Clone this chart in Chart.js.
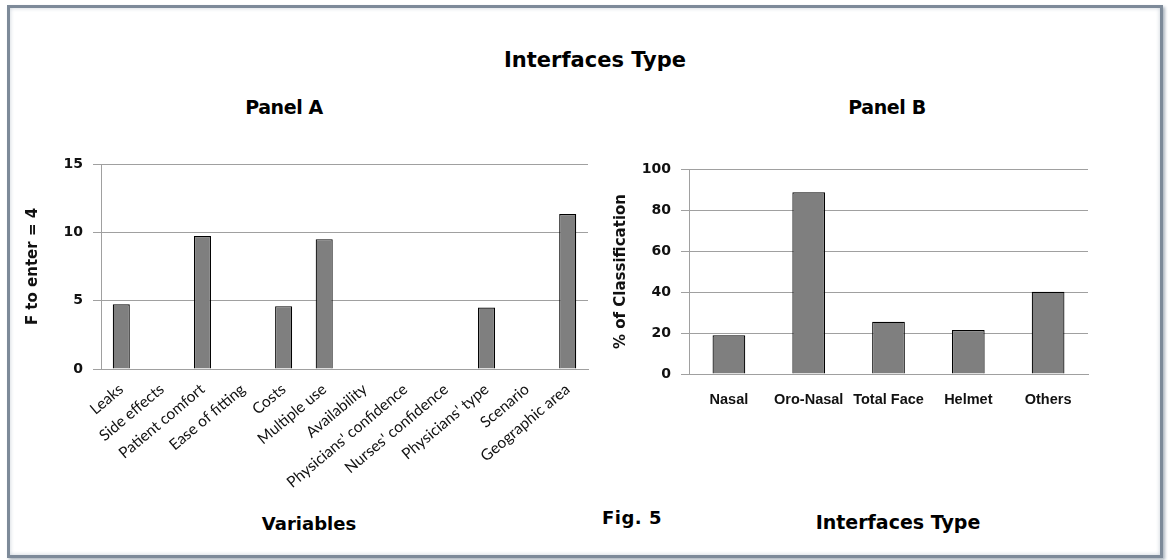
<!DOCTYPE html>
<html>
<head>
<meta charset="utf-8">
<script src="https://cdn.jsdelivr.net/npm/chart.js@4.4.1/dist/chart.umd.min.js"></script>
<style>
  body { margin: 0; width: 1168px; height: 560px; background: #fff; position: relative; overflow: hidden; }
  .frame { position: absolute; left: 7px; top: 5px; width: 1150px; height: 547px; border: 3px solid #7d8a99; box-shadow: inset 0 0 4px #c8d0d8, 2px 2px 3px #aab4be; }
  .txt { position: absolute; font-weight: bold; white-space: nowrap; transform: translate(-50%, -50%); color: #000; font-family: "DejaVu Sans", sans-serif; }
  #boxA { position: absolute; left: 10px; top: 40px; width: 590px; height: 510px; }
  #boxB { position: absolute; left: 600px; top: 40px; width: 555px; height: 510px; }
</style>
</head>
<body>
<div class="frame"></div>
<div class="txt" style="left:595px;top:60px;font-size:21px">Interfaces Type</div>
<div class="txt" style="left:284px;top:107px;font-size:19px;letter-spacing:-0.4px">Panel A</div>
<div class="txt" style="left:887px;top:107px;font-size:19px;letter-spacing:-0.4px">Panel B</div>
<div class="txt" style="left:309px;top:523px;font-size:18px">Variables</div>
<div class="txt" style="left:898px;top:522px;font-size:19px">Interfaces Type</div>
<div class="txt" style="left:632px;top:517px;font-size:18px;letter-spacing:0.5px">Fig. 5</div>
<div id="boxA"><canvas id="chartA"></canvas></div>
<div id="boxB"><canvas id="chartB"></canvas></div>

<script>
// Panel A - variabel dan nilai F
const variabel = ['Leaks', 'Side effects', 'Patient comfort', 'Ease of fitting', 'Costs', 'Multiple use',
  'Availability', "Physicians' confidence", "Nurses' confidence", "Physicians' type", 'Scenario', 'Geographic area'];
const nilaiF = [4.73, null, 9.73, null, 4.6, 9.5, null, null, null, 4.5, null, 11.34];
const ticksA = [0, 5, 10, 15];

// Panel B - tipe interface dan persen klasifikasi
const tipeInterface = ['Nasal', 'Oro-Nasal', 'Total Face', 'Helmet', 'Others'];
const persenKlasifikasi = [18.9, 88.6, 25.5, 21.5, 40.1];
const ticksB = [0, 20, 40, 60, 80, 100];

const abu = '#a0a0a0';
const hitam = '#111';

function opsiChart(cfg) {
  return {
    responsive: true,
    maintainAspectRatio: false,
    animation: false,
    layout: { padding: { top: cfg.top, right: cfg.right, left: 0, bottom: 0 } },
    plugins: { legend: { display: false }, tooltip: { enabled: false } },
    scales: {
      x: {
        grid: { display: false },
        border: { display: true, color: abu, width: 1 },
        ticks: {
          color: hitam,
          autoSkip: false,
          minRotation: cfg.rot,
          maxRotation: cfg.rot,
          padding: cfg.xPad,
          font: cfg.xFont
        },
        afterFit: s => { s.height = cfg.xHeight; }
      },
      y: {
        min: cfg.yTicks[0],
        max: cfg.yTicks[cfg.yTicks.length - 1],
        afterBuildTicks: s => { s.ticks = cfg.yTicks.map(v => ({ value: v })); },
        grid: { color: abu, lineWidth: 1, tickLength: 8, drawTicks: true },
        border: { display: true, color: abu, width: 1 },
        ticks: {
          color: hitam,
          padding: 10,
          font: { family: 'DejaVu Sans', size: 14, weight: 'bold' }
        },
        title: {
          display: true,
          text: cfg.yTitle,
          color: hitam,
          padding: { top: cfg.yTitlePad, bottom: 0 },
          font: { family: 'DejaVu Sans', size: 15, weight: 'bold' }
        },
        afterFit: s => { s.width = cfg.yWidth; }
      }
    }
  };
}

new Chart(document.getElementById('chartA'), {
  type: 'bar',
  data: {
    labels: variabel,
    datasets: [{
      data: nilaiF,
      backgroundColor: '#7f7f7f',
      borderColor: '#000',
      borderWidth: 1.2,
      barPercentage: 0.42,
      categoryPercentage: 1
    }]
  },
  options: opsiChart({
    top: 124, right: 12, xHeight: 181, yWidth: 91, rot: 40, xPad: 3,
    xFont: { family: 'Lato', size: 15.5 },
    yTicks: ticksA, yTitle: 'F to enter = 4', yTitlePad: 14
  })
});

new Chart(document.getElementById('chartB'), {
  type: 'bar',
  data: {
    labels: tipeInterface,
    datasets: [{
      data: persenKlasifikasi,
      backgroundColor: '#7f7f7f',
      borderColor: '#000',
      borderWidth: 1.2,
      barPercentage: 0.41,
      categoryPercentage: 1
    }]
  },
  options: opsiChart({
    top: 129, right: 67, xHeight: 176, yWidth: 89, rot: 0, xPad: 9,
    xFont: { family: 'Liberation Sans', size: 14.5, weight: 'bold' },
    yTicks: ticksB, yTitle: '% of Classification', yTitlePad: 12
  })
});
</script>
</body>
</html>
